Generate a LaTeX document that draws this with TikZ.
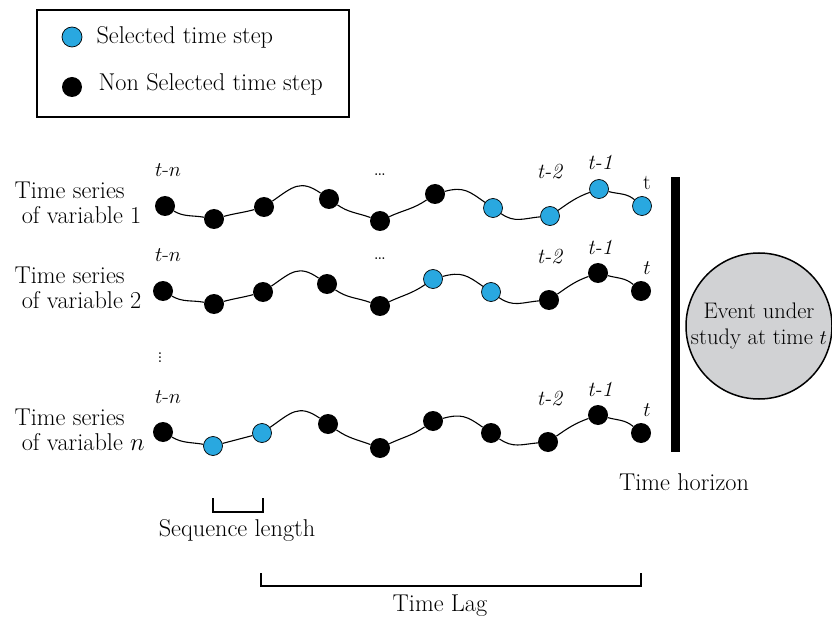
\documentclass[tikz,border=0pt]{standalone}
\usepackage{xcolor}
\definecolor{selblue}{RGB}{41,168,224}
\definecolor{eventgray}{RGB}{209,210,212}
\begin{document}
\begin{tikzpicture}[x=1pt,y=-1pt,
  every node/.style={font=\fontsize{24.3}{25}\selectfont},
  steplabel/.style={font=\fontsize{21.5}{25}\selectfont},
  sel/.style={circle,draw=black,line width=0.7pt,fill=selblue,minimum size=19pt,inner sep=0pt},
  nonsel/.style={circle,fill=black,minimum size=20pt,inner sep=0pt},
  wave/.style={line width=1.1pt},
  rowlabel/.style={align=left,anchor=west},
  bracket/.style={line width=1.2pt},
]
\useasboundingbox (0,0) rectangle (832,620);

% legend
\node[draw,line width=1.5pt,minimum width=312pt,minimum height=107pt,inner sep=0pt] (legend) at (193,63.5) {};
\node[sel,minimum size=20pt] (lsel) at (72,37) {};
\node[nonsel] (lnon) at (72,87) {};
\node[anchor=west] (lseltext) at (93,37) {Selected time step};
\node[anchor=west] (lnontext) at (95,84) {Non Selected time step};

% one time series per variable: labels
\foreach \r/\dy/\tlab/\name in {a/0/t/{1}, b/85/$t$/{2}, c/227/$t$/{$n$}} {
  \begin{scope}[yshift=-\dy pt]
    \node[rowlabel] (\r-name) at (11,203) {Time series\\\hspace*{0.3em}of variable \name};
    \node[steplabel] (\r-tn) at (168,170) {$t$-$n$};
    \node[steplabel] (\r-t2) at (550,172) {\textit{t-2}};
    \node[steplabel] (\r-t1) at (600,162) {\textit{t-1}};
    \node[steplabel] (\r-t) at (647,183) {\tlab};
  \end{scope}
}
\node[steplabel] (a-dots) at (380,175) {\dots};
\node[steplabel] (b-dots) at (380,259) {\dots};
\node[steplabel] (vdots) at (160,355) {$\vdots$};

% time steps, row 1
\node[nonsel] (a1) at (165,206) {};
\node[nonsel] (a2) at (214,219) {};
\node[nonsel] (a3) at (264,207) {};
\node[nonsel] (a4) at (329,199) {};
\node[nonsel] (a5) at (380,221) {};
\node[nonsel] (a6) at (435,194) {};
\node[sel] (a7) at (493,208) {};
\node[sel] (a8) at (550,216) {};
\node[sel] (a9) at (599,189) {};
\node[sel] (a10) at (642,206) {};

% time steps, row 2
\node[nonsel] (b1) at (163,291) {};
\node[nonsel] (b2) at (214,304) {};
\node[nonsel] (b3) at (263,292) {};
\node[nonsel] (b4) at (327,284) {};
\node[nonsel] (b5) at (380,306) {};
\node[sel] (b6) at (433,279) {};
\node[sel] (b7) at (491,292) {};
\node[nonsel] (b8) at (549,300) {};
\node[nonsel] (b9) at (598,273) {};
\node[nonsel] (b10) at (641,291) {};

% time steps, row n
\node[nonsel] (c1) at (163,432) {};
\node[sel] (c2) at (213,446) {};
\node[sel] (c3) at (262,433) {};
\node[nonsel] (c4) at (328,424) {};
\node[nonsel] (c5) at (380,448) {};
\node[nonsel] (c6) at (433,421) {};
\node[nonsel] (c7) at (491,433) {};
\node[nonsel] (c8) at (548,442) {};
\node[nonsel] (c9) at (598,415) {};
\node[nonsel] (c10) at (641,433) {};

% wavy links between consecutive steps
\foreach \r in {a,b,c} {
  \foreach \p/\q/\o/\n/\l in {1/2/-30/170/1, 2/3/15/195/1, 3/4/35/145/1.3, 4/5/-35/160/1,
                              5/6/25/215/1, 6/7/15/145/1.2, 7/8/-35/185/1.1, 8/9/35/200/1, 9/10/-15/140/1} {
    \draw[wave] (\r\p) to[out=\o,in=\n,looseness=\l] (\r\q);
  }
}

% time horizon bar and event
\node[fill=black,minimum width=9pt,minimum height=275pt,inner sep=0pt] (horizon) at (675.5,314.5) {};
\node (horizontext) at (684,482) {Time horizon};
\node[circle,draw,line width=1.5pt,fill=eventgray,minimum size=146pt,inner sep=0pt,align=center,
      font=\fontsize{22.5}{26}\selectfont] (event) at (759,326) {Event under\\study at time $t$};

% brackets
\coordinate (sl1) at (213,498);
\coordinate (sl2) at (263,498);
\draw[bracket] (sl1) -- ++(0,14) -| (sl2);
\node (seqlen) at (237,530) {Sequence length};
\coordinate (tl1) at (261,573);
\coordinate (tl2) at (641,573);
\draw[bracket] (tl1) -- ++(0,13) -| (tl2);
\node (timelag) at (440,606) {Time Lag};
\end{tikzpicture}
\end{document}
